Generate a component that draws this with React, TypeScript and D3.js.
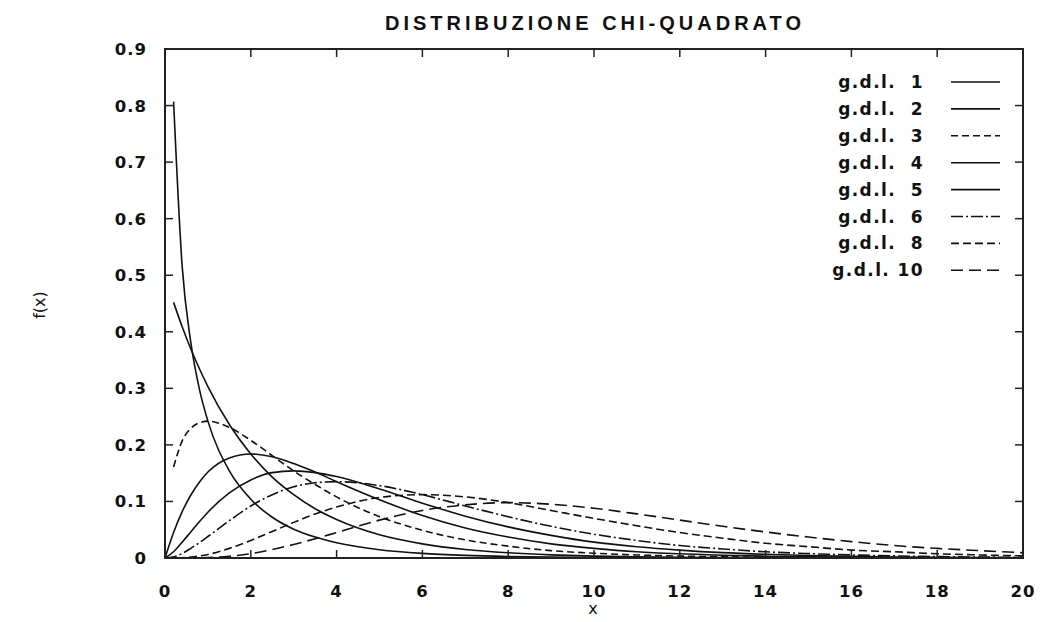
import React from "react";
import * as d3 from "d3";

const xs = [0, 0.2, 0.4, 0.6, 0.8, 1, 1.5, 2, 2.5, 3, 3.5, 4, 5, 6, 7, 8, 9, 10, 11, 12, 13, 14, 15, 16, 17, 18, 19, 20];

const gdl1 = [null, 0.807, 0.516, 0.382, 0.299, 0.242, 0.154, 0.104, 0.072, 0.051, 0.037, 0.027, 0.0146, 0.0081, 0.0046, 0.0026, 0.0015, 0.00085, 0.0005, 0.0003, 0.00017, 0.0001, 0.00006, 0.00003, 0.00002, 0.00001, 0.00001, 0];
const gdl2 = [null, 0.452, 0.409, 0.370, 0.335, 0.303, 0.236, 0.184, 0.143, 0.112, 0.087, 0.068, 0.041, 0.025, 0.015, 0.0092, 0.0056, 0.0034, 0.002, 0.0012, 0.00075, 0.00046, 0.00028, 0.00017, 0.0001, 0.00006, 0.00004, 0.00002];
const gdl3 = [null, 0.161, 0.207, 0.229, 0.239, 0.242, 0.231, 0.208, 0.181, 0.154, 0.130, 0.108, 0.073, 0.049, 0.032, 0.021, 0.013, 0.0085, 0.0054, 0.0034, 0.0022, 0.0014, 0.00085, 0.00053, 0.00033, 0.00021, 0.00013, 0.00008];
const gdl4 = [0, 0.045, 0.082, 0.111, 0.134, 0.152, 0.177, 0.184, 0.179, 0.167, 0.152, 0.135, 0.103, 0.075, 0.053, 0.037, 0.025, 0.017, 0.011, 0.0074, 0.0049, 0.0032, 0.0021, 0.0013, 0.0009, 0.00055, 0.00036, 0.00023];
const gdl5 = [0, 0.011, 0.028, 0.046, 0.064, 0.081, 0.115, 0.138, 0.151, 0.154, 0.151, 0.144, 0.122, 0.097, 0.074, 0.055, 0.040, 0.028, 0.020, 0.014, 0.0095, 0.0065, 0.0043, 0.0028, 0.0019, 0.0013, 0.0008, 0.0005];
const gdl6 = [0, 0.002, 0.008, 0.017, 0.027, 0.038, 0.066, 0.092, 0.112, 0.126, 0.133, 0.135, 0.128, 0.112, 0.092, 0.073, 0.056, 0.042, 0.031, 0.022, 0.016, 0.011, 0.0078, 0.0054, 0.0037, 0.0025, 0.0017, 0.0011];
const gdl8 = [0, 0.0001, 0.0005, 0.0017, 0.0036, 0.0063, 0.017, 0.031, 0.047, 0.063, 0.078, 0.090, 0.107, 0.112, 0.108, 0.098, 0.084, 0.070, 0.057, 0.045, 0.035, 0.026, 0.020, 0.014, 0.011, 0.0075, 0.0054, 0.0037];
const gdl10 = [0, 0, 0, 0.0001, 0.0004, 0.0008, 0.0031, 0.0077, 0.015, 0.024, 0.034, 0.045, 0.067, 0.084, 0.094, 0.098, 0.095, 0.088, 0.078, 0.067, 0.056, 0.046, 0.037, 0.029, 0.022, 0.017, 0.013, 0.0093];

const seriesLabels = ["g.d.l.  1", "g.d.l.  2", "g.d.l.  3", "g.d.l.  4", "g.d.l.  5", "g.d.l.  6", "g.d.l.  8", "g.d.l. 10"];
const seriesValues = [gdl1, gdl2, gdl3, gdl4, gdl5, gdl6, gdl8, gdl10];
const dashes = ["none", "none", "7,4", "none", "none", "12,3,2,3", "8,4", "12,6"];

const xTicks = [0, 2, 4, 6, 8, 10, 12, 14, 16, 18, 20];
const yTicks = [0, 0.1, 0.2, 0.3, 0.4, 0.5, 0.6, 0.7, 0.8, 0.9];

const title = "DISTRIBUZIONE CHI-QUADRATO";
const xLabel = "x";
const yLabel = "f(x)";

export default function App() {
  const W = 1052, H = 622;
  const L = 165, R = 1023, T = 49, B = 558;
  const x = d3.scaleLinear().domain([0, 20]).range([L, R]);
  const y = d3.scaleLinear().domain([0, 0.9]).range([B, T]);
  const font = "'Liberation Sans', Arial, sans-serif";
  const wide = "'DejaVu Sans', sans-serif";

  const line = d3
    .line<[number, number | null]>()
    .defined((d) => d[1] !== null)
    .x((d) => x(d[0]))
    .y((d) => y(d[1] as number))
    .curve(d3.curveMonotoneX);

  const legX1 = 951, legX2 = 1000, legTextX = 924, legY0 = 82, legDY = 26.9;

  return (
    <svg width={W} height={H} style={{ position: "absolute", left: 0, top: 0, display: "block", background: "#fff" }}>
      <text x={595} y={30} textAnchor="middle" fontFamily={font} fontWeight="bold" fontSize={20} letterSpacing={4} fill="#111">
        {title}
      </text>

      <g stroke="#111" strokeWidth={1.6} fill="none">
        {seriesValues.map((vals, i) => (
          <path
            key={i}
            d={line(xs.map((xv, j) => [xv, vals[j]] as [number, number | null])) || ""}
            strokeDasharray={dashes[i]}
          />
        ))}
      </g>

      <g stroke="#222" strokeWidth={1.5}>
        {xTicks.map((t) => (
          <g key={"xt" + t}>
            <line x1={x(t)} x2={x(t)} y1={B} y2={B - 8} />
            <line x1={x(t)} x2={x(t)} y1={T} y2={T + 8} />
          </g>
        ))}
        {yTicks.map((t) => (
          <g key={"yt" + t}>
            <line x1={L} x2={L + 8} y1={y(t)} y2={y(t)} />
            <line x1={R} x2={R - 8} y1={y(t)} y2={y(t)} />
          </g>
        ))}
      </g>
      <rect x={L} y={T} width={R - L} height={B - T} fill="none" stroke="#222" strokeWidth={2} />

      <g fontFamily={wide} fontSize={16.5} fontWeight="bold" fill="#111" letterSpacing={1}>
        {xTicks.map((t) => (
          <text key={"xl" + t} x={x(t)} y={597} textAnchor="middle">
            {t}
          </text>
        ))}
        {yTicks.map((t) => (
          <text key={"yl" + t} x={147} y={y(t) + 6} textAnchor="end">
            {t === 0 ? "0" : t.toFixed(1)}
          </text>
        ))}
      </g>

      <text x={593} y={614} textAnchor="middle" fontFamily={wide} fontSize={16} fill="#111">
        {xLabel}
      </text>
      <text
        transform={`translate(45, ${305}) rotate(-90)`}
        textAnchor="middle"
        fontFamily={wide}
        fontSize={16}
        fill="#111"
      >
        {yLabel}
      </text>

      <g fontFamily={wide} fontSize={17} fontWeight="bold" fill="#111" letterSpacing={1.4}>
        {seriesLabels.map((lab, i) => (
          <g key={"lg" + i}>
            <text x={legTextX} y={legY0 + i * legDY + 6} textAnchor="end" style={{ whiteSpace: "pre" }}>
              {lab}
            </text>
            <line
              x1={legX1}
              x2={legX2}
              y1={legY0 + i * legDY}
              y2={legY0 + i * legDY}
              stroke="#111"
              strokeWidth={1.6}
              strokeDasharray={dashes[i]}
            />
          </g>
        ))}
      </g>
    </svg>
  );
}
